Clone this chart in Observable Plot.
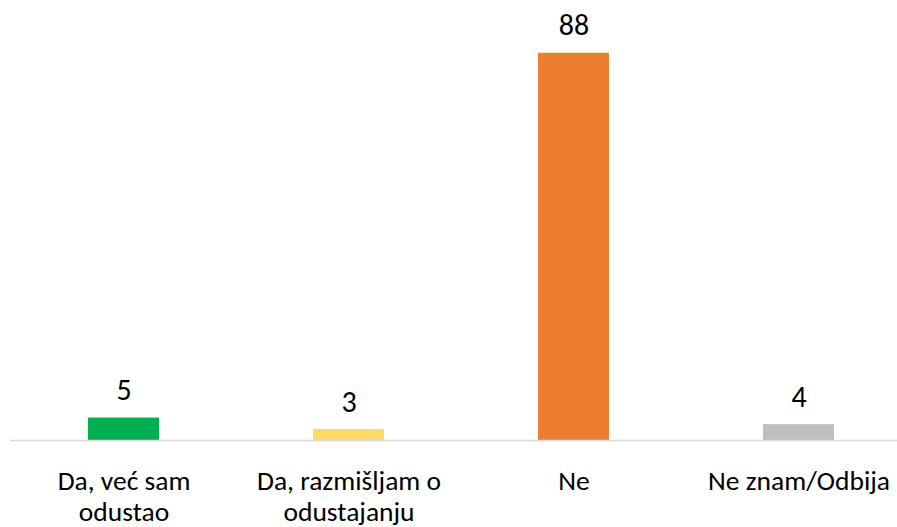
<!DOCTYPE html>
<html>
<head>
<meta charset="utf-8">
<script src="https://cdn.jsdelivr.net/npm/d3@7"></script>
<script src="https://cdn.jsdelivr.net/npm/@observablehq/plot@0.6"></script>
<style>
  html, body { margin: 0; padding: 0; background: #fff; overflow: hidden; }
  #chart { width: 897px; height: 527px; overflow: hidden; }
</style>
</head>
<body>
<div id="chart"></div>
<script>
const categories = ["Da, već sam odustao", "Da, razmišljam o odustajanju", "Ne", "Ne znam/Odbija"];
const tickLabels = ["Da, već sam\nodustao", "Da, razmišljam o\nodustajanju", "Ne", "Ne znam/Odbija"];
const values = [5.1, 2.5, 88, 3.6];
const valueLabels = ["5", "3", "88", "4"];
const colors = ["#00B050", "#FFD966", "#ED7D31", "#BFBFBF"];

const data = categories.map((c, i) => ({cat: c, value: values[i], label: valueLabels[i], tick: tickLabels[i]}));

const font = "Carlito, Calibri, Lato, sans-serif";

const chart = Plot.plot({
  width: 897,
  height: 527,
  marginLeft: 10,
  marginRight: 0,
  marginTop: 0,
  marginBottom: 87,
  style: {fontFamily: font, background: "#fff", color: "#000", overflow: "hidden"},
  x: {domain: categories, range: [10, 912], paddingInner: 0.685, paddingOuter: 0.3425, axis: null},
  y: {domain: [0, 100], axis: null},
  color: {domain: categories, range: colors},
  marks: [
    Plot.barY(data, {x: "cat", y: "value", fill: "cat"}),
    Plot.ruleY([0], {stroke: "#D9D9D9", strokeWidth: 1.5}),
    Plot.text(data, {x: "cat", y: "value", text: "label", dy: -18, lineAnchor: "bottom", fontSize: 30, fill: "#000"}),
    Plot.text(data, {x: "cat", y: 0, text: "tick", dy: 27, lineAnchor: "top", fontSize: 27.5, lineHeight: 31 / 27.5, fill: "#000"})
  ]
});
document.getElementById("chart").appendChild(chart);
</script>
</body>
</html>
